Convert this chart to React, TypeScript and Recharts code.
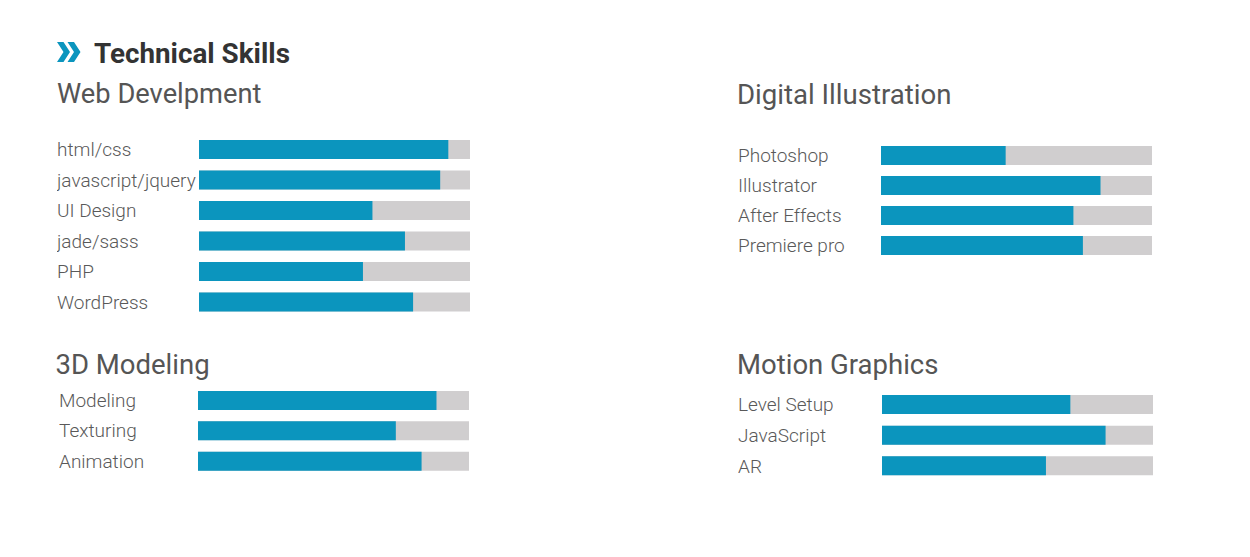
import React from "react";
import { BarChart, Bar, XAxis, YAxis } from "recharts";

// skill names and levels (percent)
const webSkills = ["html/css", "javascript/jquery", "UI Design", "jade/sass", "PHP", "WordPress"];
const webLevels = [92, 89, 64, 76, 60.5, 79];

const illustrationSkills = ["Photoshop", "Illustrator", "After Effects", "Premiere pro"];
const illustrationLevels = [46, 81, 71, 74.5];

const modelingSkills = ["Modeling", "Texturing", "Animation"];
const modelingLevels = [88, 73, 82.5];

const motionSkills = ["Level Setup", "JavaScript", "AR"];
const motionLevels = [69.5, 82.5, 60.5];

const BLUE = "#0b95be";
const TRACK = "#d0cecf";
const FONT = "Roboto, 'Noto Sans', sans-serif";

const toRows = (names: string[], levels: number[]) =>
  names.map((name, i) => ({ name, level: levels[i] }));

function SkillTick(props: any) {
  const { x, y, payload, axisWidth } = props;
  return (
    <text
      x={x - axisWidth}
      y={y}
      dy="0.36em"
      textAnchor="start"
      fill="#595959"
      fontFamily={FONT}
      fontWeight={300}
      fontSize={19}
    >
      {payload.value}
    </text>
  );
}

interface SkillBarsProps {
  names: string[];
  levels: number[];
  left: number;
  top: number;
  width: number;
  height: number;
  axisWidth: number;
}

function SkillBars({ names, levels, left, top, width, height, axisWidth }: SkillBarsProps) {
  const data = toRows(names, levels);
  return (
    <div style={{ position: "absolute", left, top, width, height }}>
      <BarChart
        width={width}
        height={height}
        data={data}
        layout="vertical"
        margin={{ top: 0, right: 0, bottom: 0, left: 0 }}
      >
        <XAxis type="number" domain={[0, 100]} hide />
        <YAxis
          type="category"
          dataKey="name"
          width={axisWidth}
          axisLine={false}
          tickLine={false}
          tickSize={0}
          tickMargin={0}
          interval={0}
          tick={<SkillTick axisWidth={axisWidth} />}
        />
        <Bar
          dataKey="level"
          fill={BLUE}
          barSize={19}
          background={{ fill: TRACK }}
          isAnimationActive={false}
        />
      </BarChart>
    </div>
  );
}

export default function App() {
  return (
    <div
      style={{
        position: "absolute",
        left: 0,
        top: 0,
        width: 1250,
        height: 557,
        background: "#fff",
        overflow: "hidden",
      }}
    >
      <svg width={1250} height={557} style={{ position: "absolute", left: 0, top: 0 }}>
        {/* double chevron */}
        <polygon points="57,42 63.5,42 70,52 63.5,62 57,62 63.5,52" fill={BLUE} />
        <polygon points="67.5,42 74,42 80.5,52 74,62 67.5,62 74,52" fill={BLUE} />
        <text x={94} y={62.5} fill="#333" fontFamily={FONT} fontWeight={700} fontSize={27.8}>
          Technical Skills
        </text>
        <text x={57} y={102.7} fill="#555" fontFamily={FONT} fontSize={27.3}>
          Web Develpment
        </text>
        <text x={737} y={104.3} fill="#555" fontFamily={FONT} fontSize={27.6}>
          Digital Illustration
        </text>
        <text x={55.5} y={374.3} fill="#555" fontFamily={FONT} fontSize={27.5}>
          3D Modeling
        </text>
        <text x={737} y={374.3} fill="#555" fontFamily={FONT} fontSize={27.5}>
          Motion Graphics
        </text>
      </svg>

      <SkillBars names={webSkills} levels={webLevels} left={57} top={134} width={413} height={183} axisWidth={142} />
      <SkillBars
        names={illustrationSkills}
        levels={illustrationLevels}
        left={738}
        top={140}
        width={414}
        height={120}
        axisWidth={143}
      />
      <SkillBars
        names={modelingSkills}
        levels={modelingLevels}
        left={59}
        top={385}
        width={410}
        height={91}
        axisWidth={139}
      />
      <SkillBars
        names={motionSkills}
        levels={motionLevels}
        left={738}
        top={389}
        width={415}
        height={92}
        axisWidth={144}
      />
    </div>
  );
}
